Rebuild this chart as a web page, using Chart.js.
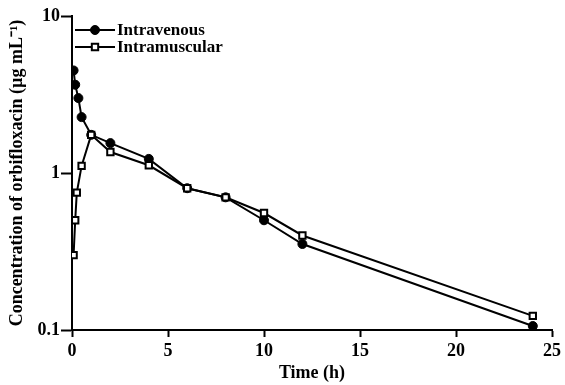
<!DOCTYPE html>
<html lang="en">
<head>
    <meta charset="UTF-8">
    <title>Concentration of orbifloxacin</title>
    <script src="https://cdn.jsdelivr.net/npm/chart.js"></script>
    <style>
        body {
            margin: 0;
            background: #fff;
        }
        canvas {
            display: block;
        }
    </style>
</head>
<body>
    <canvas id="pkChart" width="565" height="385"></canvas>

    <script>
        // Sampling times (h) and concentrations (ug/mL)
        const timesIV = [0.083, 0.167, 0.333, 0.5, 1, 2, 4, 6, 8, 10, 12, 24];
        const intravenous = [4.5, 3.65, 3.0, 2.27, 1.75, 1.55, 1.23, 0.80, 0.70, 0.50, 0.353, 0.106];
        const timesIM = [0.083, 0.167, 0.25, 0.5, 1, 2, 4, 6, 8, 10, 12, 24];
        const intramuscular = [0.30, 0.50, 0.75, 1.11, 1.75, 1.36, 1.12, 0.80, 0.70, 0.556, 0.40, 0.123];
        const yTicks = [0.1, 1, 10];

        const serif = "'Liberation Serif', 'Times New Roman', serif";
        const tickFont = { family: serif, size: 18, weight: 'bold' };
        const titleFont = { family: serif, size: 18, weight: 'bold' };

        function toPoints(xs, ys) {
            return xs.map((x, i) => ({ x: x, y: ys[i] }));
        }

        // small legend drawn inside the plot, top left
        const insideLegend = {
            id: 'insideLegend',
            afterDraw(chart) {
                const ctx = chart.ctx;
                const rows = [30, 47];
                ctx.save();
                chart.data.datasets.forEach((ds, i) => {
                    const y = rows[i];
                    ctx.strokeStyle = '#000';
                    ctx.lineWidth = 2;
                    ctx.beginPath();
                    ctx.moveTo(75, y);
                    ctx.lineTo(115, y);
                    ctx.stroke();
                    ctx.fillStyle = ds.pointBackgroundColor;
                    ctx.strokeStyle = '#000';
                    ctx.lineWidth = ds.pointBorderWidth;
                    Chart.helpers.drawPoint(ctx, {
                        pointStyle: ds.pointStyle,
                        radius: ds.pointRadius,
                        borderWidth: ds.pointBorderWidth,
                        rotation: 0
                    }, 95, y);
                    ctx.fillStyle = '#000';
                    ctx.font = 'bold 17px ' + serif;
                    ctx.textBaseline = 'middle';
                    ctx.textAlign = 'left';
                    ctx.fillText(ds.label, 117, y + 1);
                });
                ctx.restore();
            }
        };

        const ctx = document.getElementById('pkChart').getContext('2d');

        const pkChart = new Chart(ctx, {
            type: 'line',
            data: {
                datasets: [{
                    label: 'Intravenous',
                    data: toPoints(timesIV, intravenous),
                    borderColor: '#000',
                    borderWidth: 2,
                    pointStyle: 'circle',
                    pointRadius: 4.5,
                    pointBackgroundColor: '#000',
                    pointBorderColor: '#000',
                    pointBorderWidth: 1,
                    order: 2
                }, {
                    label: 'Intramuscular',
                    data: toPoints(timesIM, intramuscular),
                    borderColor: '#000',
                    borderWidth: 2,
                    pointStyle: 'rect',
                    pointRadius: 4.5,
                    pointBackgroundColor: '#fff',
                    pointBorderColor: '#000',
                    pointBorderWidth: 2,
                    order: 1
                }]
            },
            options: {
                responsive: false,
                animation: false,
                layout: {
                    padding: { top: 16, right: 13, left: 0, bottom: 0 }
                },
                scales: {
                    x: {
                        type: 'linear',
                        min: 0,
                        max: 25,
                        ticks: {
                            stepSize: 5,
                            color: '#000',
                            font: tickFont,
                            padding: 4,
                            maxRotation: 0
                        },
                        grid: {
                            drawOnChartArea: false,
                            drawTicks: true,
                            tickLength: 7,
                            tickWidth: 2,
                            tickColor: '#000'
                        },
                        border: { color: '#000', width: 2 },
                        title: {
                            display: true,
                            text: 'Time (h)',
                            color: '#000',
                            font: titleFont,
                            padding: { top: 0, bottom: 1 }
                        },
                        afterFit(scale) { scale.height = 55; }
                    },
                    y: {
                        type: 'logarithmic',
                        min: 0.1,
                        max: 10,
                        afterBuildTicks(scale) {
                            scale.ticks = yTicks.map(v => ({ value: v }));
                        },
                        ticks: {
                            color: '#000',
                            font: tickFont,
                            padding: 1,
                            callback: (v) => String(v)
                        },
                        grid: {
                            drawOnChartArea: false,
                            drawTicks: true,
                            tickLength: 11,
                            tickWidth: 2,
                            tickColor: '#000'
                        },
                        border: { color: '#000', width: 2 },
                        title: {
                            display: true,
                            text: 'Concentration of orbifloxacin (\u00b5g mL\u207b\u00b9)',
                            color: '#000',
                            font: titleFont,
                            padding: { top: 7, bottom: 0 }
                        },
                        afterFit(scale) { scale.width = 72; }
                    }
                },
                plugins: {
                    legend: { display: false },
                    tooltip: { enabled: false }
                }
            },
            plugins: [insideLegend]
        });
    </script>
</body>
</html>
